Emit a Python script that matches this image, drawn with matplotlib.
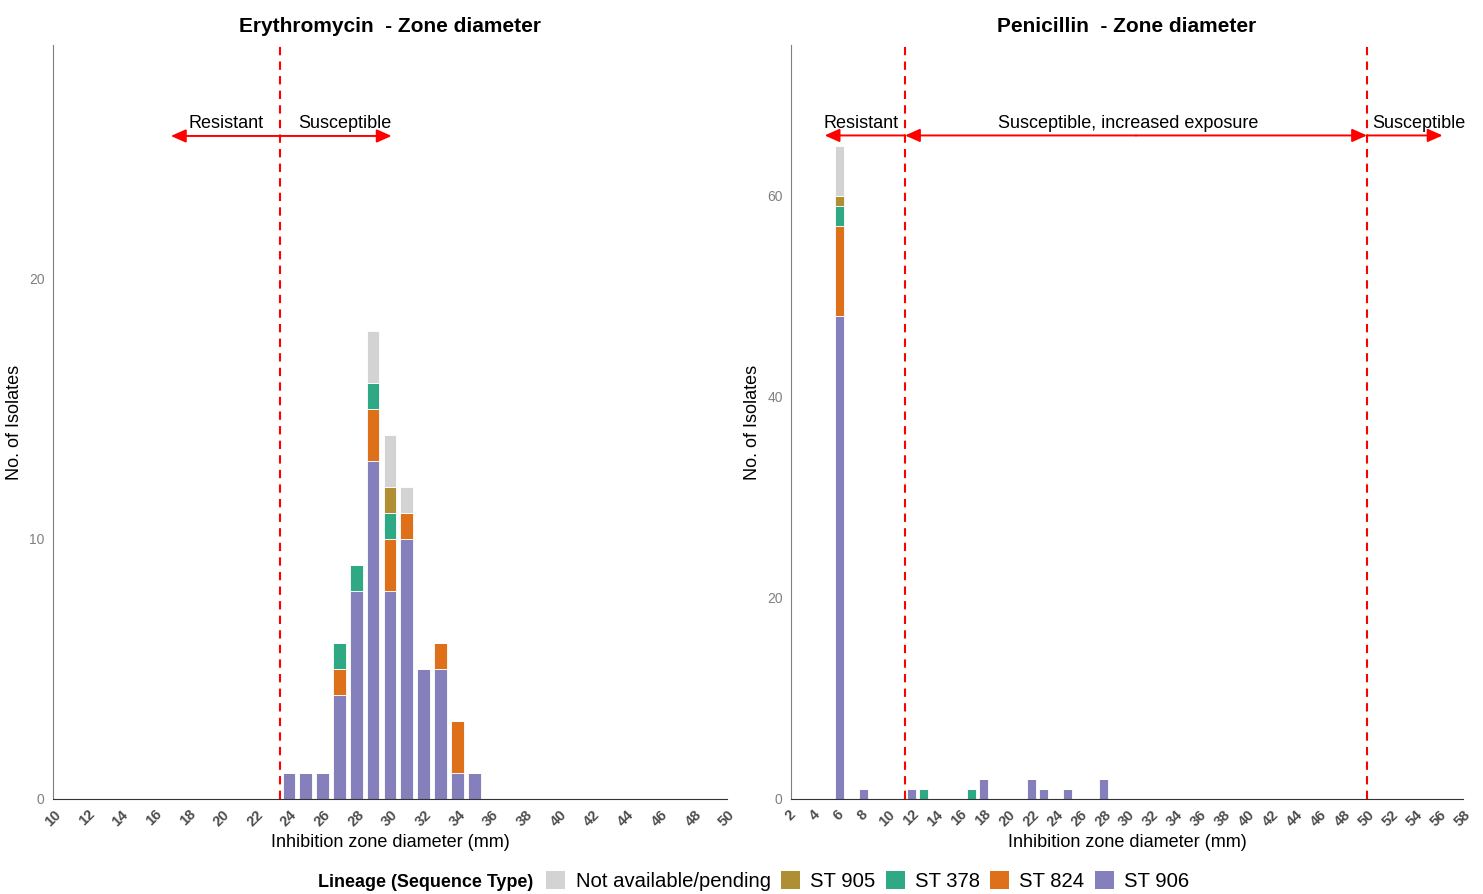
import numpy as np
import matplotlib.pyplot as plt
from matplotlib.patches import Patch

plt.rcParams['font.family'] = ['Liberation Sans', 'DejaVu Sans']

# lineage order, bottom of stack first
lineages = ['ST 906', 'ST 824', 'ST 378', 'ST 905', 'Not available/pending']
colors = ['#8580bb', '#df701a', '#2ea984', '#b08e34', '#d3d3d3']

# erythromycin zone diameters (mm) and counts per lineage
ery_x = [24, 25, 26, 27, 28, 29, 30, 31, 32, 33, 34, 35]
ery_st906 = [1, 1, 1, 4, 8, 13, 8, 10, 5, 5, 1, 1]
ery_st824 = [0, 0, 0, 1, 0, 2, 2, 1, 0, 1, 2, 0]
ery_st378 = [0, 0, 0, 1, 1, 1, 1, 0, 0, 0, 0, 0]
ery_st905 = [0, 0, 0, 0, 0, 0, 1, 0, 0, 0, 0, 0]
ery_na = [0, 0, 0, 0, 0, 2, 2, 1, 0, 0, 0, 0]

# penicillin
pen_x = [6, 8, 12, 13, 17, 18, 22, 23, 25, 28]
pen_st906 = [48, 1, 1, 0, 0, 2, 2, 1, 1, 2]
pen_st824 = [9, 0, 0, 0, 0, 0, 0, 0, 0, 0]
pen_st378 = [2, 0, 0, 1, 1, 0, 0, 0, 0, 0]
pen_st905 = [1, 0, 0, 0, 0, 0, 0, 0, 0, 0]
pen_na = [5, 0, 0, 0, 0, 0, 0, 0, 0, 0]

ery_breaks = [23.5]
pen_breaks = [11.5, 50]


def stacked(ax, x, series):
    bottom = np.zeros(len(x))
    for vals, c in zip(series, colors):
        vals = np.array(vals, dtype=float)
        ax.bar(x, vals, bottom=bottom, width=0.75, color=c,
               edgecolor='white', linewidth=0.6)
        bottom += vals


def style(ax, title, xlim, xticks, ylim, yticks):
    ax.set_xlim(*xlim)
    ax.set_ylim(*ylim)
    ax.set_xticks(xticks)
    ax.set_xticklabels([str(t) for t in xticks], rotation=45, ha='center',
                       fontsize=10.5, color='#4d4d4d', fontweight='bold')
    ax.set_yticks(yticks)
    ax.set_yticklabels([str(t) for t in yticks], fontsize=10, color='#808080')
    ax.tick_params(axis='x', length=0, pad=6)
    ax.tick_params(axis='y', length=0, pad=6)
    for s in ['top', 'right']:
        ax.spines[s].set_visible(False)
    ax.spines['left'].set_color('#7f7f7f')
    ax.spines['bottom'].set_color('#333333')
    ax.set_title(title, fontsize=15, fontweight='bold', pad=9)
    ax.set_xlabel('Inhibition zone diameter (mm)', fontsize=13, labelpad=4)
    ax.set_ylabel('No. of Isolates', fontsize=13)
    ax.yaxis.set_label_coords(-0.045, 0.5)


def arrow(ax, x0, x1, y):
    ax.annotate('', xy=(x1, y), xytext=(x0, y),
                arrowprops=dict(arrowstyle='-|>,head_length=0.9,head_width=0.4',
                                color='red', lw=1.4, shrinkA=0, shrinkB=0))


fig = plt.figure(figsize=(14.83, 8.94), dpi=100)
ax1 = fig.add_axes([0.0357, 0.1063, 0.4545, 0.8434])
ax2 = fig.add_axes([0.5334, 0.1063, 0.4531, 0.8434])

stacked(ax1, ery_x, [ery_st906, ery_st824, ery_st378, ery_st905, ery_na])
stacked(ax2, pen_x, [pen_st906, pen_st824, pen_st378, pen_st905, pen_na])

style(ax1, 'Erythromycin  - Zone diameter', (10, 50), range(10, 51, 2),
      (0, 29), [0, 10, 20])
style(ax2, 'Penicillin  - Zone diameter', (2, 58), range(2, 59, 2),
      (0, 75), [0, 20, 40, 60])

for b in ery_breaks:
    ax1.axvline(b, color='red', ls=(0, (4, 3)), lw=1.5)
for b in pen_breaks:
    ax2.axvline(b, color='red', ls=(0, (4, 3)), lw=1.5)

# erythromycin breakpoint arrows
arrow(ax1, 23.5, 17, 25.5)
arrow(ax1, 23.5, 30.1, 25.5)
ax1.text(20.3, 25.65, 'Resistant', ha='center', va='bottom', fontsize=13)
ax1.text(27.3, 25.65, 'Susceptible', ha='center', va='bottom', fontsize=13)

# penicillin breakpoint arrows
arrow(ax2, 11.5, 4.8, 66)
arrow(ax2, 30.75, 11.5, 66)
arrow(ax2, 30.75, 50, 66)
arrow(ax2, 50, 56.3, 66)
ax2.text(7.8, 66.3, 'Resistant', ha='center', va='bottom', fontsize=13)
ax2.text(30.1, 66.3, 'Susceptible, increased exposure', ha='center',
         va='bottom', fontsize=13)
ax2.text(54.3, 66.3, 'Susceptible', ha='center', va='bottom', fontsize=13)

# legend
fig.text(0.2145, 0.003, 'Lineage (Sequence Type)', fontsize=12.9,
         fontweight='bold', ha='left', va='bottom')
handles = [Patch(facecolor=c, edgecolor='none') for c in colors[::-1]]
fig.legend(handles, lineages[::-1], loc='lower left', ncol=5,
           bbox_to_anchor=(0.356, -0.017), frameon=False, fontsize=14.6,
           handlelength=0.95, handleheight=0.95, handletextpad=0.5,
           columnspacing=0.5)

fig.savefig('out.png', dpi=100)
